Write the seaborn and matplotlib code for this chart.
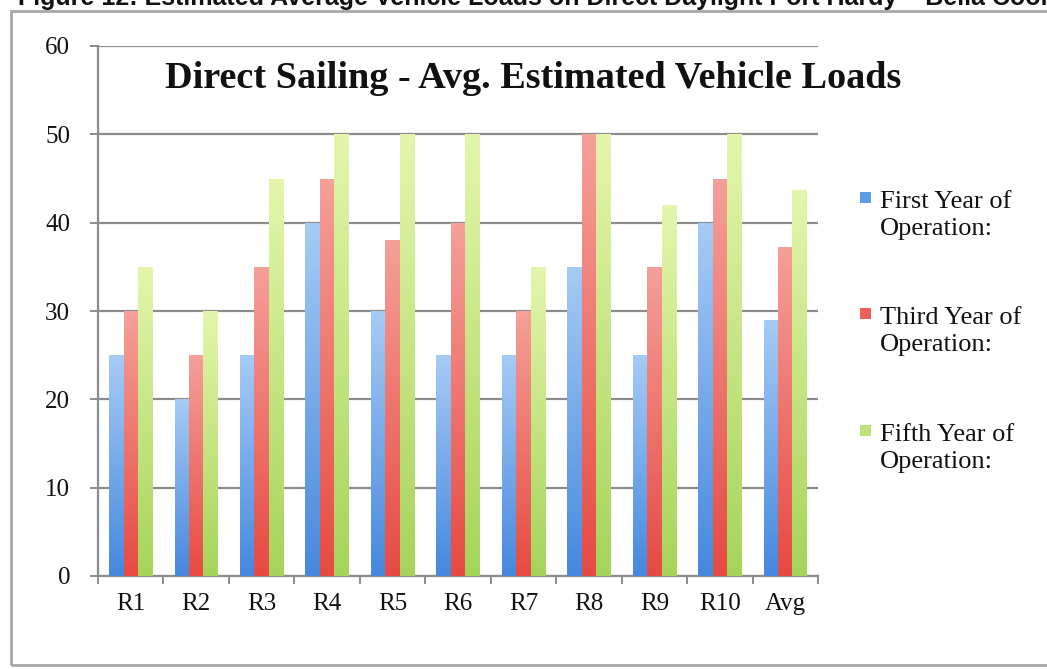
import numpy as np
import pandas as pd
import matplotlib
matplotlib.use("Agg")
import matplotlib.pyplot as plt
import seaborn as sns
from matplotlib.patches import Rectangle
from matplotlib.legend_handler import HandlerBase
from matplotlib.colors import LinearSegmentedColormap

# ---- data ----
categories = ["R1", "R2", "R3", "R4", "R5", "R6", "R7", "R8", "R9", "R10", "Avg"]
first_year = [25, 20, 25, 40, 30, 25, 25, 35, 25, 40, 29.0]
third_year = [30, 25, 35, 45, 38, 40, 30, 50, 35, 45, 37.3]
fifth_year = [35, 30, 45, 50, 50, 50, 35, 50, 42, 50, 43.7]
series_names = ["First Year of\nOperation:", "Third Year of\nOperation:", "Fifth Year of\nOperation:"]
y_ticks = [0, 10, 20, 30, 40, 50, 60]
title = "Direct Sailing - Avg. Estimated Vehicle Loads"
caption = "Figure 12: Estimated Average Vehicle Loads on Direct Daylight Port Hardy \u2013 Bella Coola"

colors = ["#5d9be4", "#ea615a", "#bde37a"]
grad_top = ["#a6cbf5", "#f5a099", "#e4f6ac"]
grad_bot = ["#4688de", "#e64a42", "#a6d45a"]

rows = []
for name, vals in zip(series_names, [first_year, third_year, fifth_year]):
    for c, v in zip(categories, vals):
        rows.append({"Route": c, "Series": name, "Load": v})
df = pd.DataFrame(rows)

sns.set_theme(style="white")
plt.rcParams["font.family"] = ["Liberation Serif", "DejaVu Serif"]

W, H = 1047, 669
fig = plt.figure(figsize=(W / 100, H / 100), dpi=100)
ax = fig.add_axes([98 / W, 1 - 576 / H, (818 - 98) / W, (576 - 46) / H])

sns.barplot(data=df, x="Route", y="Load", hue="Series", order=categories,
            hue_order=series_names, palette=colors, width=0.66, gap=0,
            saturation=1, ax=ax, legend=True, zorder=3, linewidth=0)

ax.set_xlim(-0.5, len(categories) - 0.5)
ax.set_ylim(0, 60)

# gradient fill on each bar
xl, yl = ax.get_xlim(), ax.get_ylim()
for i, cont in enumerate(ax.containers):
    cmap = LinearSegmentedColormap.from_list(f"g{i}", [grad_bot[i], grad_top[i]])
    grad = np.linspace(0, 1, 256).reshape(-1, 1)
    for p in cont.patches:
        x0, y0 = p.get_x(), p.get_y()
        w, h = p.get_width(), p.get_height()
        im = ax.imshow(grad, cmap=cmap, origin="lower", aspect="auto",
                       extent=[x0, x0 + w, y0, y0 + h], zorder=3.5)
        im.set_clip_path(p)
ax.set_xlim(xl)
ax.set_ylim(yl)

grid_col = "#8c8c8c"
ax.set_yticks(y_ticks)
ax.yaxis.grid(True, color=grid_col, linewidth=1.6, zorder=1)
ax.xaxis.grid(False)
ax.set_axisbelow(True)
for s in ["top", "right"]:
    ax.spines[s].set_visible(False)
for s in ["left", "bottom"]:
    ax.spines[s].set_color(grid_col)
    ax.spines[s].set_linewidth(1.6)

ax.set_xticks(np.arange(-0.5, len(categories), 1.0), minor=True)
ax.tick_params(axis="x", which="major", length=0, pad=12, labelsize=18, labelcolor="#111111")
ax.tick_params(axis="x", which="minor", length=6, width=1.4, color=grid_col, bottom=True)
ax.tick_params(axis="y", which="major", length=6, width=1.4, color=grid_col, left=True,
               pad=14, labelsize=18, labelcolor="#111111")
ax.set_xlabel("")
ax.set_ylabel("")

fig.text(533 / W, 1 - 78 / H, title, ha="center", va="center", fontsize=27.5,
         fontweight="bold", color="#111111")


class TopHandler(HandlerBase):
    def create_artists(self, legend, orig_handle, xdescent, ydescent, width, height,
                       fontsize, trans):
        s = 0.42 * fontsize
        r = Rectangle((-xdescent + width - s, -ydescent + height / 2 + 0.66 * fontsize - s / 2),
                      s, s, facecolor=orig_handle.get_facecolor(), edgecolor="none",
                      transform=trans)
        return [r]


handles, labels = ax.get_legend_handles_labels()
leg = ax.legend(handles, labels, handler_map={type(handles[0]): TopHandler()},
                loc="upper left", bbox_to_anchor=(855 / W, 1 - 191 / H),
                bbox_transform=fig.transFigure, frameon=False, fontsize=19,
                handlelength=0.6, handletextpad=0.35, labelspacing=2.55,
                borderaxespad=0, borderpad=0)
for t in leg.get_texts():
    t.set_linespacing(1.3)
    t.set_color("#111111")

# outer frame and caption
fig.patches.append(Rectangle((11 / W, 1 - 665 / H), 1.2, (665 - 11) / H,
                             transform=fig.transFigure, fill=False,
                             edgecolor="#a8a8a8", linewidth=2, zorder=0))
fig.text(18 / W, 1 - 5 / H, caption, ha="left", va="baseline", fontsize=18,
         fontweight="bold", family=["Liberation Sans", "DejaVu Sans"], color="#111111")

fig.savefig("out.png", dpi=100, facecolor="white")
